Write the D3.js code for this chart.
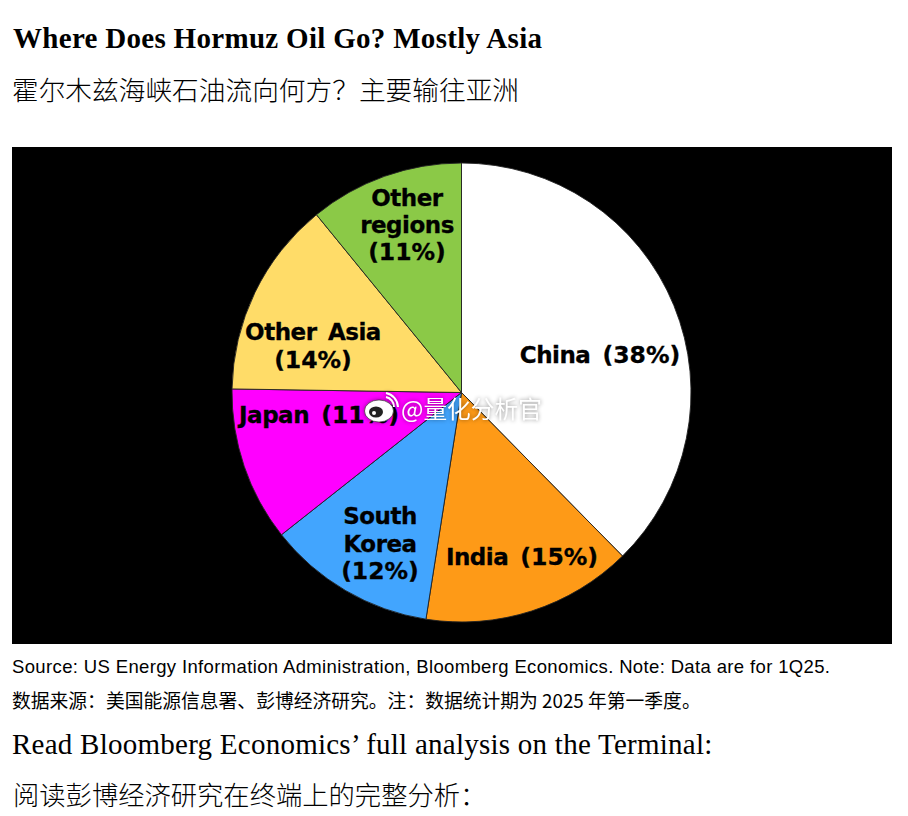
<!DOCTYPE html>
<html>
<head>
<meta charset="utf-8">
<script src="https://cdn.jsdelivr.net/npm/d3@7"></script>
<style>
  body { margin: 0; background: #fff; }
  svg { display: block; }
</style>
</head>
<body>
<script>
var regions = ["China", "India", "South Korea", "Japan", "Other Asia", "Other regions"];
var shares = [38, 15, 12, 11, 14, 11];
var sliceColors = ["#ffffff", "#fe9a17", "#42a5fe", "#ff00ff", "#ffdc68", "#8bc947"];

// label lines, same order as regions
var labelLines = [
  ["China (38%)"],
  ["India (15%)"],
  ["South", "Korea", "(12%)"],
  ["Japan (11%)"],
  ["Other Asia", "(14%)"],
  ["Other", "regions", "(11%)"]
];
var labelX = [600, 522, 380, 319, 313, 407];
var labelY = [363, 565, 524, 423, 340, 206];
var labelStep = [0, 0, 27.5, 0, 28, 27];

var cx = 461.5, cy = 392.5, radius = 229.5;
var sans = "'Liberation Sans', Arimo, sans-serif";
var serif = "'Liberation Serif', serif";
var cjk = "'Noto Sans CJK SC', sans-serif";
var labelFont = "'DejaVu Sans', sans-serif";

var svg = d3.select("body")
  .append("svg")
  .attr("width", 908)
  .attr("height", 816);

svg.append("rect").attr("width", 908).attr("height", 816).style("fill", "#fff");

function addText(x, y, str, size, family, weight, spacing) {
  return svg.append("text")
    .attr("x", x)
    .attr("y", y)
    .text(str)
    .style("font-size", size + "px")
    .style("font-family", family)
    .style("font-weight", weight)
    .style("letter-spacing", (spacing || 0) + "px")
    .style("fill", "#000");
}

addText(13, 48, "Where Does Hormuz Oil Go? Mostly Asia", 29, serif, 700, 0.3);
addText(12, 100, "霍尔木兹海峡石油流向何方？主要输往亚洲", 26.7, cjk, 300);

svg.append("rect")
  .attr("x", 12).attr("y", 147)
  .attr("width", 880).attr("height", 497)
  .style("fill", "#000");

var pie = d3.pie().sort(null).value(function(d) { return d; });
var arc = d3.arc().innerRadius(0).outerRadius(radius);

var chart = svg.append("g").attr("transform", "translate(" + cx + "," + cy + ")");

chart.selectAll("path")
  .data(pie(shares))
  .enter()
  .append("path")
  .attr("d", arc)
  .style("fill", function(d, i) { return sliceColors[i]; })
  .style("stroke", "#222")
  .style("stroke-width", 0.9);

// slice labels, names a bit narrower than the percent part
regions.forEach(function(name, i) {
  labelLines[i].forEach(function(line, j) {
    var t = svg.append("text")
      .attr("x", labelX[i])
      .attr("y", labelY[i] + j * labelStep[i])
      .attr("text-anchor", "middle")
      .style("font-family", labelFont)
      .style("font-weight", 700)
      .style("fill", "#000")
      .style("stroke", "#000")
      .style("stroke-width", 0.3);
    var parts = line.split(" ");
    parts.forEach(function(part, k) {
      var isPct = part.charAt(0) == "(";
      t.append("tspan")
        .attr("dx", k > 0 ? 4 : 0)
        .style("font-size", isPct ? "23.5px" : "23px")
        .style("letter-spacing", isPct ? "0px" : "-0.5px")
        .text((k > 0 ? " " : "") + part);
    });
  });
});

// watermark
var mark = svg.append("g").style("filter", "drop-shadow(0 0 2px rgba(0,0,0,0.45))");
mark.append("ellipse").attr("cx", 379).attr("cy", 411).attr("rx", 14.5).attr("ry", 11)
  .style("fill", "#fff").style("stroke", "#222").style("stroke-width", 0.6);
mark.append("ellipse").attr("cx", 376).attr("cy", 412).attr("rx", 7).attr("ry", 5.5)
  .style("fill", "#222");
mark.append("circle").attr("cx", 374).attr("cy", 413).attr("r", 2).style("fill", "#fff");
mark.append("path").attr("d", "M386,397 A10,10 0 0 1 394,407").style("fill", "none")
  .style("stroke", "#fff").style("stroke-width", 2);
mark.append("path").attr("d", "M386,393 A15,15 0 0 1 398,407").style("fill", "none")
  .style("stroke", "#fff").style("stroke-width", 2);
mark.append("text").attr("x", 401).attr("y", 418).text("@量化分析官")
  .style("font-size", "23.7px").style("font-family", cjk).style("fill", "#fff");

addText(12, 673, "Source: US Energy Information Administration, Bloomberg Economics. Note: Data are for 1Q25.", 18.5, sans, 400, 0.36);
addText(12, 708, "数据来源：美国能源信息署、彭博经济研究。注：数据统计期为 2025 年第一季度。", 18.8, cjk, 400);
addText(12, 754, "Read Bloomberg Economics’ full analysis on the Terminal:", 29, serif, 400, 0.25);
addText(13, 805, "阅读彭博经济研究在终端上的完整分析：", 26.3, cjk, 300);
</script>
</body>
</html>
